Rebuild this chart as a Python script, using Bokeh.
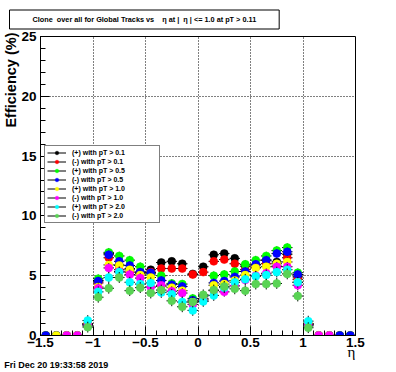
import numpy as np
from bokeh.plotting import figure
from bokeh.models import (FixedTicker, Legend, LegendItem, ColumnDataSource, Range1d,
                          CustomJSTickFormatter, LinearAxis, Title)
from bokeh.embed import file_html
from bokeh.resources import INLINE

nan = float("nan")

# ---- data -------------------------------------------------------------
ETA = [-1.45, -1.35, -1.25, -1.15, -1.05, -0.95, -0.85, -0.75, -0.65, -0.55,
       -0.45, -0.35, -0.25, -0.15, -0.05, 0.05, 0.15, 0.25, 0.35, 0.45,
       0.55, 0.65, 0.75, 0.85, 0.95, 1.05, 1.15, 1.25, 1.35, 1.45]

POS_PT01 = [0, 0, 0, 0, 1.0, 4.6, 6.85, 5.9, 5.6, 5.3, 5.5, 6.1, 6.2, 6.0, 5.15,
            5.75, 6.75, 6.85, 6.45, 5.8, 5.9, 6.3, 6.15, 6.8, 4.9, 1.0, 0, 0, 0, 0]
NEG_PT01 = [0, 0, 0, 0, 0.9, 4.4, 6.5, 5.5, 5.3, 5.2, 5.3, 5.6, 5.6, 5.6, 5.1,
            5.3, 6.2, 6.35, 6.0, 5.5, 5.7, 6.0, 5.8, 6.5, 4.7, 0.9, 0, 0, 0, 0]
POS_PT05 = [0, 0, 0, 0, 0.8, 4.75, 6.95, 6.65, 6.3, 5.75, 5.15, 5.0, 4.35, 4.3, 3.1,
            3.3, 5.0, 5.1, 5.35, 5.95, 6.3, 6.65, 7.1, 7.35, 5.25, 0.8, 0, 0, 0, 0]
NEG_PT05 = [0, 0, 0, 0, 0.9, 4.55, 6.75, 6.2, 5.85, 5.3, 5.25, 4.6, 4.25, 4.1, 2.95,
            3.1, 4.4, 4.55, 4.9, 5.35, 5.95, 6.3, 6.85, 7.0, 5.1, 0.9, 0, 0, 0, 0]
POS_PT10 = [nan, 0, 0, 0, 1.0, 4.05, 5.9, 5.85, 5.5, 5.05, 4.85, 4.1, 4.0, 3.75, 2.8,
            3.0, 4.2, 4.3, 4.6, 5.05, 5.65, 5.75, 6.0, 6.15, 4.45, 1.0, 0, 0, nan, nan]
NEG_PT10 = [nan, nan, 0, 0, 0.9, 3.95, 5.65, 5.35, 5.1, 4.8, 4.05, 4.2, 3.7, 3.55, 2.6,
            2.9, 3.75, 3.65, 4.15, 4.65, 5.0, 5.2, 5.75, 5.75, 4.2, 0.9, 0, 0, nan, nan]
POS_PT20 = [nan, nan, nan, nan, 1.25, 3.65, 4.85, 5.3, 4.45, 4.3, 4.4, 3.6, 3.45, 2.8, 2.1,
            2.85, 3.35, 4.0, 4.45, 4.7, 4.95, 5.05, 5.3, 5.5, 4.45, 1.2, nan, nan, nan, nan]
NEG_PT20 = [nan, nan, nan, nan, 0.7, 3.2, 3.95, 4.85, 3.75, 4.0, 3.55, 3.8, 2.9, 2.4, 2.8,
            3.4, 3.8, 4.1, 3.9, 3.75, 4.3, 4.3, 4.35, 5.15, 3.3, 0.65, nan, nan, nan, nan]

ERRORS = [0.3, 0.3, 0.35, 0.35, 0.4, 0.4, 0.45, 0.45]

LABELS = ["(+) with pT > 0.1", "(-) with pT > 0.1", "(+) with pT > 0.5", "(-) with pT > 0.5",
          "(+) with pT > 1.0", "(-) with pT > 1.0", "(+) with pT > 2.0", "(-) with pT > 2.0"]
SERIES = [POS_PT01, NEG_PT01, POS_PT05, NEG_PT05, POS_PT10, NEG_PT10, POS_PT20, NEG_PT20]
COLORS = ["#000000", "#ff0000", "#00ff00", "#0000ff", "#ffff00", "#ff00ff", "#00ffff", "#59d354"]

X_TICKS = [-1.5, -1.0, -0.5, 0.0, 0.5, 1.0, 1.5]
Y_TICKS = [0, 5, 10, 15, 20, 25]

TITLE = ("Clone\u00a0 over all for Global Tracks vs\u00a0\u00a0\u00a0 \u03b7 at |\u00a0 "
         "\u03b7 | <= 1.0 at pT > 0.11")
Y_TITLE = "Efficiency (%)"
X_TITLE = "\u03b7"
DATE = "Fri Dec 20 19:33:58 2019"

# ---- figure -------------------------------------------------------------
FONT = "Liberation Sans"
p = figure(width=396, height=372, output_backend="svg", toolbar_location=None,
           x_range=Range1d(-1.5, 1.5), y_range=Range1d(0, 25),
           min_border_left=40, min_border_right=41, min_border_top=36, min_border_bottom=37)
p.background_fill_color = "white"
p.border_fill_color = "white"
p.outline_line_color = "black"
p.outline_line_width = 1

xa = p.xaxis[0]
ya = p.yaxis[0]
xa.ticker = FixedTicker(ticks=X_TICKS, minor_ticks=[round(-1.5 + 0.1 * i, 2) for i in range(31)])
ya.ticker = FixedTicker(ticks=Y_TICKS, minor_ticks=list(range(26)))
xa.formatter = CustomJSTickFormatter(code="""
    const v = Math.round(tick * 10) / 10;
    return v < 0 ? '\\u2212' + String(Math.abs(v)) : String(v);
""")
for ax in (xa, ya):
    ax.major_tick_in = 9
    ax.major_tick_out = 0
    ax.minor_tick_in = 5
    ax.minor_tick_out = 0
    ax.axis_line_color = "black"
    ax.major_tick_line_color = "black"
    ax.minor_tick_line_color = "black"
    ax.major_label_text_font = FONT
    ax.major_label_text_font_style = "bold"
    ax.major_label_text_font_size = "13.5px"
    ax.major_label_text_color = "black"
xa.major_label_standoff = 2
ya.major_label_standoff = 4

for g in (p.xgrid[0], p.ygrid[0]):
    g.grid_line_color = "black"
    g.grid_line_dash = "1 2"
    g.grid_line_width = 1

# ---- series -------------------------------------------------------------
eta = np.array(ETA)
items = []
for vals, err, col, lab in zip(SERIES, ERRORS, COLORS, LABELS):
    v = np.array(vals, dtype=float)
    e = np.where(v > 0, err, 0.0)
    src = ColumnDataSource(dict(x=eta, y=v, x0=eta - 0.05, x1=eta + 0.05,
                                ylo=v - e, yhi=v + e))
    hr = p.segment(x0="x0", y0="y", x1="x1", y1="y", line_color="black",
                   line_width=1, source=src)
    p.segment(x0="x", y0="ylo", x1="x", y1="yhi", line_color="black",
              line_width=1, source=src)
    sr = p.scatter("x", "y", size=8, marker="circle", fill_color=col,
                   line_color=col, line_width=0.5, source=src)
    items.append(LegendItem(label=lab, renderers=[hr, sr]))

legend = Legend(items=items, location=(4, 112), padding=2, margin=0, spacing=0,
                glyph_width=19, glyph_height=9, label_height=9, label_width=85,
                label_standoff=6, label_text_font=FONT, label_text_font_style="bold",
                label_text_font_size="7px", label_text_color="black",
                border_line_color="black", border_line_width=1,
                background_fill_color="white", background_fill_alpha=1.0)
p.add_layout(legend)

# ---- texts outside the frame -------------------------------------------
p.title = Title(text=TITLE, align="left", offset=-31, vertical_align="bottom",
                standoff=15, text_font=FONT, text_font_style="bold",
                text_font_size="7.3px", text_color="black",
                border_line_color="black", border_line_width=1,
                background_fill_color="white", padding=(23, 5))

p.add_layout(Title(text=Y_TITLE, align="right", offset=-4, standoff=0, text_font=FONT,
                   text_font_style="bold", text_font_size="14.5px",
                   text_color="black"), "left")

# extra label-only axes below the x axis: the axis title and the date stamp
eta_axis = LinearAxis(ticker=FixedTicker(ticks=[1.46], minor_ticks=[]),
                      formatter=CustomJSTickFormatter(args=dict(t=X_TITLE), code="return t"),
                      axis_line_color=None, major_tick_line_color=None,
                      minor_tick_line_color=None, major_tick_in=0, major_tick_out=0,
                      minor_tick_in=0, minor_tick_out=0, major_label_standoff=-6,
                      major_label_text_font="Liberation Serif",
                      major_label_text_font_size="15px", major_label_text_color="black")
p.add_layout(eta_axis, "below")

date_axis = LinearAxis(ticker=FixedTicker(ticks=[-1.35], minor_ticks=[]),
                       formatter=CustomJSTickFormatter(args=dict(t=DATE), code="return t"),
                       axis_line_color=None, major_tick_line_color=None,
                       minor_tick_line_color=None, major_tick_in=0, major_tick_out=0,
                       minor_tick_in=0, minor_tick_out=0, major_label_standoff=-3,
                       major_label_text_font=FONT, major_label_text_font_style="bold",
                       major_label_text_font_size="9px", major_label_text_color="black")
p.add_layout(date_axis, "below")

open("out.html", "w").write(file_html(p, INLINE))
